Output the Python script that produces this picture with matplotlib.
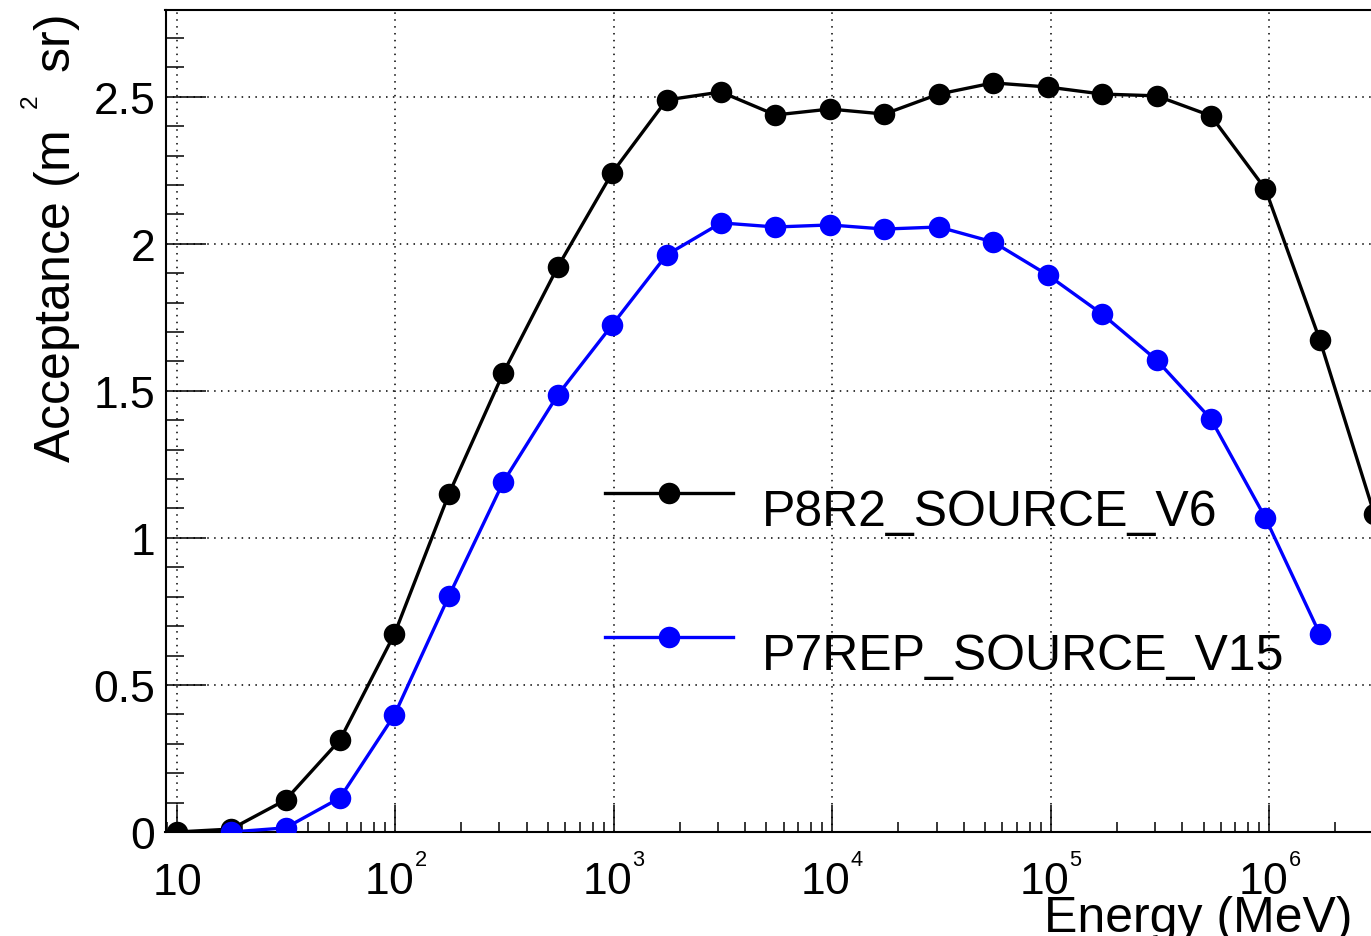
import numpy as np
import matplotlib
matplotlib.use("Agg")
import matplotlib.pyplot as plt
from matplotlib.ticker import FixedLocator, LogLocator, MultipleLocator, FuncFormatter, NullFormatter

plt.rcParams['font.family'] = ['Liberation Sans', 'DejaVu Sans']
plt.rcParams['mathtext.fontset'] = 'custom'
plt.rcParams['mathtext.rm'] = 'Liberation Sans'
plt.rcParams['mathtext.it'] = 'Liberation Sans:italic'
plt.rcParams['mathtext.bf'] = 'Liberation Sans:bold'

# ---- data ----
energy_p8 = [10, 17.74, 31.49, 55.88, 99.17, 176.0, 312.3, 554.2, 983.5, 1745, 3097, 5496,
             9754, 17310, 30720, 54510, 96740, 171700, 304600, 540600, 959400, 1.7025e6, 3.0215e6]
accept_p8 = [0.0, 0.01, 0.109, 0.313, 0.673, 1.149, 1.561, 1.921, 2.241, 2.489, 2.516, 2.438,
             2.458, 2.441, 2.509, 2.547, 2.533, 2.509, 2.503, 2.435, 2.186, 1.673, 1.081]

energy_p7 = [17.74, 31.49, 55.88, 99.17, 176.0, 312.3, 554.2, 983.5, 1745, 3097, 5496,
             9754, 17310, 30720, 54510, 96740, 171700, 304600, 540600, 959400, 1.7025e6]
accept_p7 = [0.0, 0.014, 0.116, 0.398, 0.802, 1.190, 1.486, 1.724, 1.962, 2.071, 2.057,
             2.064, 2.050, 2.057, 2.006, 1.894, 1.761, 1.605, 1.404, 1.068, 0.673]

label_p8 = "P8R2_SOURCE_V6"
label_p7 = "P7REP_SOURCE_V15"

xticks = [10, 100, 1000, 1e4, 1e5, 1e6]
xtick_labels = [r"$\mathregular{10}$",
                r"$\mathregular{10^{{}^{2}}}$",
                r"$\mathregular{10^{{}^{3}}}$",
                r"$\mathregular{10^{{}^{4}}}$",
                r"$\mathregular{10^{{}^{5}}}$",
                r"$\mathregular{10^{{}^{6}}}$"]
ytick_values = [0, 0.5, 1, 1.5, 2, 2.5]

xlabel = "Energy (MeV)"
ylabel = r"Acceptance (m$^{\ \ {}^{2}}$$\ \,$sr)"

# ---- figure ----
W, H = 1371, 937
fig = plt.figure(figsize=(W / 100, H / 100), dpi=100)
ax_left, ax_right, ax_top, ax_bottom = 165.5, 1400.0, 11.0, 833.0
ax = fig.add_axes([ax_left / W, (H - ax_bottom) / H,
                   (ax_right - ax_left) / W, (ax_bottom - ax_top) / H])

ax.set_xscale('log')
ax.set_xlim(10 ** 0.94875, 10 ** 6.598)
ax.set_ylim(0, 2.7948)

ax.plot(energy_p8, accept_p8, color='black', lw=2.4, marker='o', ms=15.5, mew=0,
        label=label_p8, zorder=3)
ax.plot(energy_p7, accept_p7, color='#0000ff', lw=2.4, marker='o', ms=15.5, mew=0,
        label=label_p7, zorder=3)

# ticks
ax.xaxis.set_major_locator(FixedLocator(xticks))
ax.xaxis.set_minor_locator(LogLocator(base=10, subs=np.arange(2, 10)))
ax.xaxis.set_minor_formatter(NullFormatter())
ax.set_xticks(xticks, xtick_labels)
ax.yaxis.set_major_locator(FixedLocator(ytick_values))
ax.yaxis.set_minor_locator(MultipleLocator(0.1))
ax.yaxis.set_major_formatter(FuncFormatter(lambda v, p: f"{v:g}"))

ax.tick_params(axis='both', which='both', direction='in', width=1.1, color='black')
ax.tick_params(axis='x', which='major', length=19.5, pad=44.6, labelsize=32)
ax.tick_params(axis='x', which='minor', length=7.5)
ax.tick_params(axis='y', which='major', length=29, pad=7.2, labelsize=32)
ax.tick_params(axis='y', which='minor', length=13)
for lab in ax.get_xticklabels():
    lab.set_verticalalignment('baseline')

for s in ax.spines.values():
    s.set_linewidth(1.5)

ax.grid(True, which='major', color='black', lw=1.1, linestyle=(0, (1, 3.5)))

# labels
ax.set_xlabel(xlabel, fontsize=36, loc='right')
ax.xaxis.set_label_coords((1352 - ax_left) / (ax_right - ax_left),
                          (ax_bottom - 896) / (ax_bottom - ax_top))
ax.set_ylabel(ylabel, fontsize=36, loc='top')
ax.yaxis.set_label_coords((83 - ax_left) / (ax_right - ax_left),
                          (ax_bottom - 15) / (ax_bottom - ax_top))

leg = ax.legend(loc='upper left', bbox_to_anchor=(605 / W, (H - 462) / H),
                bbox_transform=fig.transFigure, frameon=False, fontsize=36,
                handlelength=2.55, handletextpad=0.58, handleheight=2.6,
                labelspacing=0.95, borderpad=0, borderaxespad=0, numpoints=1)

fig.savefig("out.png", dpi=100)
